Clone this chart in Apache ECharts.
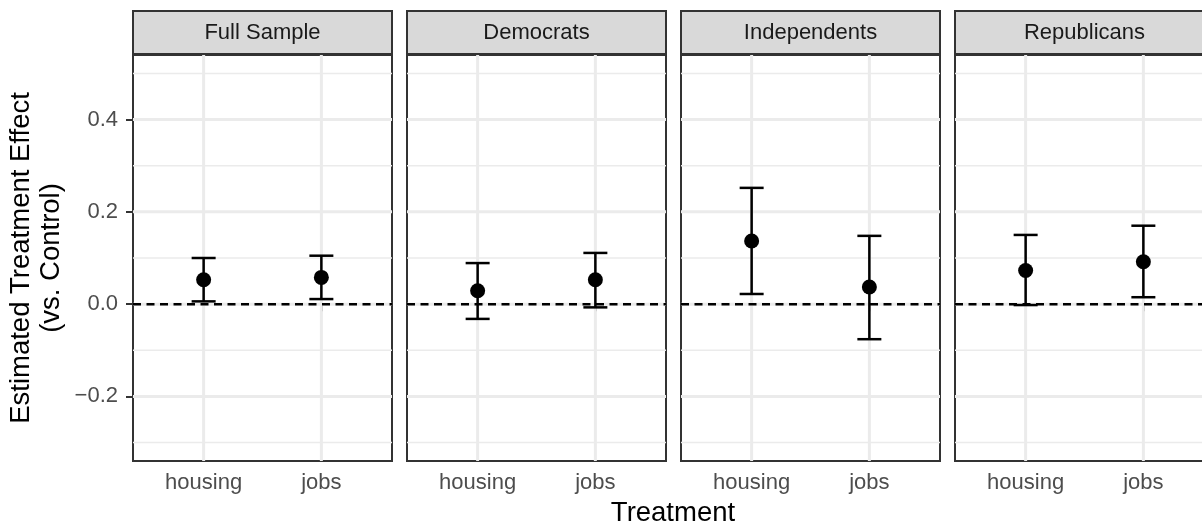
<!DOCTYPE html>
<html>
<head>
<meta charset="utf-8">
<script src="https://cdn.jsdelivr.net/npm/echarts@6/dist/echarts.min.js"></script>
<style>
  html, body { margin: 0; padding: 0; background: #fff; }
  #chart { width: 1202px; height: 526px; }
</style>
</head>
<body>
<div id="chart"></div>
<script>
// data
const panelNames = ['Full Sample', 'Democrats', 'Independents', 'Republicans'];
const treatments = ['housing', 'jobs'];
const estimate = [[0.053, 0.058], [0.029, 0.053], [0.137, 0.037], [0.073, 0.092]];
const lowerCI = [[0.006, 0.011], [-0.032, -0.007], [0.022, -0.076], [-0.002, 0.015]];
const upperCI = [[0.100, 0.105], [0.089, 0.111], [0.252, 0.148], [0.150, 0.170]];
const yTicks = [-0.2, 0, 0.2, 0.4];
const yMinor = [-0.3, -0.1, 0.1, 0.3, 0.5];

const FONT = '"Liberation Sans", Arial, Helvetica, sans-serif';
const lefts = [133, 407, 681, 955];
const PW = 259, PT = 55, PH = 406;

const grids = [], xAxes = [], yAxes = [], series = [], graphics = [];

panelNames.forEach((name, i) => {
	grids.push({
		left: lefts[i], top: PT, width: PW, height: PH,
		show: true, borderColor: '#333', borderWidth: 2, backgroundColor: '#fff',
		containLabel: false, outerBoundsMode: 'none'
	});
	xAxes.push({
		gridIndex: i, type: 'value', min: 0.4, max: 2.6,
		axisLine: { show: false }, splitLine: { show: false },
		axisTick: { show: true, customValues: [1, 2], length: 7, lineStyle: { color: '#333', width: 2 } },
		axisLabel: {
			customValues: [1, 2], formatter: v => treatments[Math.round(v) - 1],
			color: '#4D4D4D', fontSize: 22, fontFamily: FONT, margin: 11
		}
	});
	yAxes.push({
		gridIndex: i, type: 'value', min: -0.34, max: 0.54,
		axisLine: { show: false }, splitLine: { show: false },
		axisTick: { show: i === 0, customValues: yTicks, length: 7, lineStyle: { color: '#333', width: 2 } },
		axisLabel: {
			show: i === 0, customValues: yTicks,
			formatter: v => (v < -1e-9 ? '\u2212' : '') + Math.abs(v).toFixed(1),
			color: '#4D4D4D', fontSize: 22, fontFamily: FONT, margin: 15
		}
	});

	// background grid + zero line
	const gridData = [];
	yMinor.forEach(v => gridData.push([1, v, 1]));
	yTicks.forEach(v => gridData.push([1, v, 0]));
	[1, 2].forEach(v => gridData.push([v, 0, 2]));
	gridData.push([1, 0, 3]);
	series.push({
		type: 'custom', xAxisIndex: i, yAxisIndex: i, z: 1, silent: true,
		encode: { x: 0, y: 1 },
		data: gridData,
		renderItem: (params, api) => {
			const cs = params.coordSys;
			const kind = api.value(2);
			if (kind === 2) {
				const x = api.coord([api.value(0), 0])[0];
				return { type: 'line', shape: { x1: x, y1: cs.y, x2: x, y2: cs.y + cs.height },
					style: { stroke: '#EBEBEB', lineWidth: 3 } };
			}
			const y = api.coord([1, api.value(1)])[1];
			const style = kind === 3
				? { stroke: '#000', lineWidth: 2.5, lineDash: [8, 5.5] }
				: { stroke: '#EBEBEB', lineWidth: kind === 0 ? 3 : 1.6 };
			return { type: 'line', shape: { x1: cs.x, y1: y, x2: cs.x + cs.width, y2: y }, style };
		}
	});

	// error bars
	series.push({
		type: 'custom', xAxisIndex: i, yAxisIndex: i, z: 3, silent: true,
		encode: { x: 0, y: [1, 2] },
		data: treatments.map((t, j) => [j + 1, lowerCI[i][j], upperCI[i][j]]),
		renderItem: (params, api) => {
			const lo = api.coord([api.value(0), api.value(1)]);
			const hi = api.coord([api.value(0), api.value(2)]);
			const hw = 12;
			const st = { stroke: '#000', lineWidth: 2.5 };
			return { type: 'group', children: [
				{ type: 'line', shape: { x1: lo[0], y1: lo[1], x2: hi[0], y2: hi[1] }, style: st },
				{ type: 'line', shape: { x1: lo[0] - hw, y1: lo[1], x2: lo[0] + hw, y2: lo[1] }, style: st },
				{ type: 'line', shape: { x1: hi[0] - hw, y1: hi[1], x2: hi[0] + hw, y2: hi[1] }, style: st }
			] };
		}
	});

	// point estimates
	series.push({
		type: 'scatter', xAxisIndex: i, yAxisIndex: i, z: 4, silent: true,
		symbol: 'circle', symbolSize: 15, itemStyle: { color: '#000', opacity: 1 },
		data: treatments.map((t, j) => [j + 1, estimate[i][j]])
	});

	// facet strip
	graphics.push({
		type: 'rect', shape: { x: lefts[i], y: 11, width: PW, height: 43 },
		style: { fill: '#D9D9D9', stroke: '#333', lineWidth: 2 }
	});
	graphics.push({
		type: 'text', x: lefts[i] + PW / 2, y: 33,
		style: { text: name, fill: '#1A1A1A', fontSize: 22, fontFamily: FONT, align: 'center', verticalAlign: 'middle' }
	});
});

graphics.push({
	type: 'text', x: 673, y: 513,
	style: { text: 'Treatment', fill: '#000', fontSize: 27.5, fontFamily: FONT, align: 'center', verticalAlign: 'middle' }
});
graphics.push({
	type: 'text', x: 36, y: 258, rotation: Math.PI / 2,
	style: { text: 'Estimated Treatment Effect\n(vs. Control)', fill: '#000', fontSize: 27.5, fontFamily: FONT,
		align: 'center', verticalAlign: 'middle', lineHeight: 30 }
});

const myChart = echarts.init(document.getElementById('chart'), null, { renderer: 'canvas', devicePixelRatio: 1 });
myChart.setOption({
	animation: false,
	backgroundColor: '#fff',
	grid: grids,
	xAxis: xAxes,
	yAxis: yAxes,
	series: series,
	graphic: graphics
});
</script>
</body>
</html>
